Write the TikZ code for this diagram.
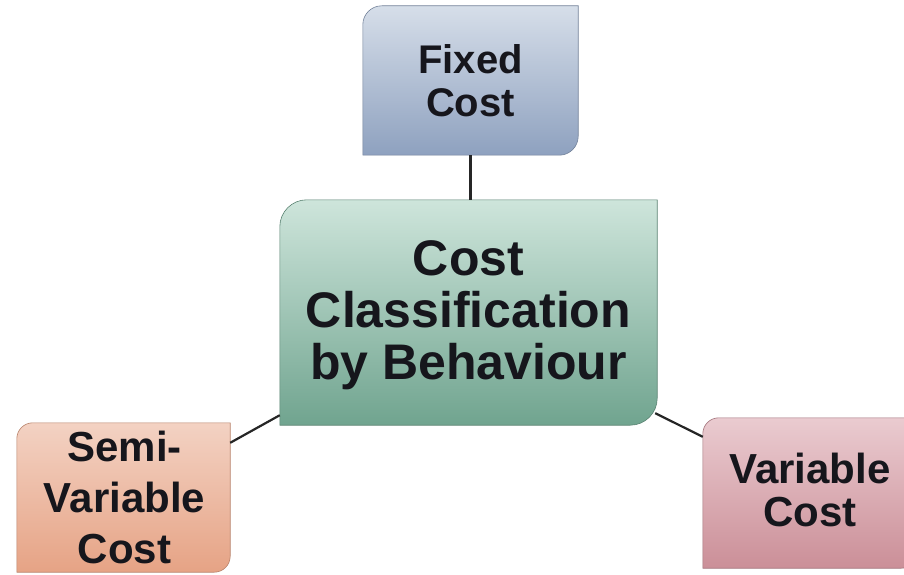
\documentclass[tikz,border=0pt]{standalone}
\usepackage{fontspec}
\setmainfont{Liberation Sans}
\usetikzlibrary{calc}
\definecolor{fixtop}{RGB}{214,222,233}
\definecolor{fixbot}{RGB}{142,161,191}
\definecolor{maintop}{RGB}{206,229,219}
\definecolor{mainbot}{RGB}{112,164,143}
\definecolor{semitop}{RGB}{243,210,195}
\definecolor{semibot}{RGB}{230,163,133}
\definecolor{vartop}{RGB}{234,203,208}
\definecolor{varbot}{RGB}{203,143,152}
\definecolor{txt}{RGB}{22,22,28}
\tikzset{
  boxnode/.style={rectangle, inner sep=0pt, align=center, text=txt, font=\bfseries},
  link/.style={draw=black!85, line width=2.2pt},
}
% #1 node name, #2 radius, #3 top colour, #4 bottom colour
\newcommand{\cutbox}[4]{%
  \shade[top color=#3, bottom color=#4, draw=#4!80!black, line width=0.6pt]
    (#1.south west) -- ($(#1.north west)+(0,-#2)$)
    arc[start angle=180, end angle=90, radius=#2]
    -- (#1.north east) -- ($(#1.south east)+(0,#2)$)
    arc[start angle=0, end angle=-90, radius=#2] -- cycle;}
\begin{document}
\begin{tikzpicture}[x=1pt, y=1pt]
\useasboundingbox (0,0) rectangle (904,574);
\fill[white] (0,0) rectangle (904,574);
\begin{scope}
\clip (0,0) rectangle (904,574);
% box frames (text added after shading)
\node[boxnode, minimum width=215pt, minimum height=149pt] (fixed) at (470.5,493.5) {};
\node[boxnode, minimum width=377pt, minimum height=225pt] (main) at (468.5,261.5) {};
\node[boxnode, minimum width=213pt, minimum height=149pt] (semi) at (123.5,76.5) {};
\node[boxnode, minimum width=214pt, minimum height=150pt] (var) at (810,81) {};
\cutbox{fixed}{19pt}{fixtop}{fixbot}
\cutbox{main}{27pt}{maintop}{mainbot}
\cutbox{semi}{16pt}{semitop}{semibot}
\cutbox{var}{16pt}{vartop}{varbot}
% connectors
\draw[link] (fixed.south) -- (fixed.south |- main.north);
\draw[link] ($(semi.north east)+(0,-20)$) -- ($(main.south west)+(0,10)$);
\draw[link] ($(main.south east)+(-2,12)$) -- ($(var.north west)+(0,-19)$);
% texts
\node[boxnode, font=\bfseries\fontsize{40}{43}\selectfont] (fixedtxt) at (fixed.center) {Fixed\\Cost};
\node[boxnode, font=\bfseries\fontsize{50}{52}\selectfont] (maintxt) at ($(main.center)+(0,-3)$) {Cost\\Classification\\by Behaviour};
\node[boxnode, font=\bfseries\fontsize{42}{51}\selectfont] (semitxt) at ($(semi.center)+(1,0)$) {Semi-\\Variable\\Cost};
\node[boxnode, font=\bfseries\fontsize{42}{43}\selectfont] (vartxt) at ($(var.center)+(0,3)$) {Variable\\Cost};
\end{scope}
\end{tikzpicture}
\end{document}
